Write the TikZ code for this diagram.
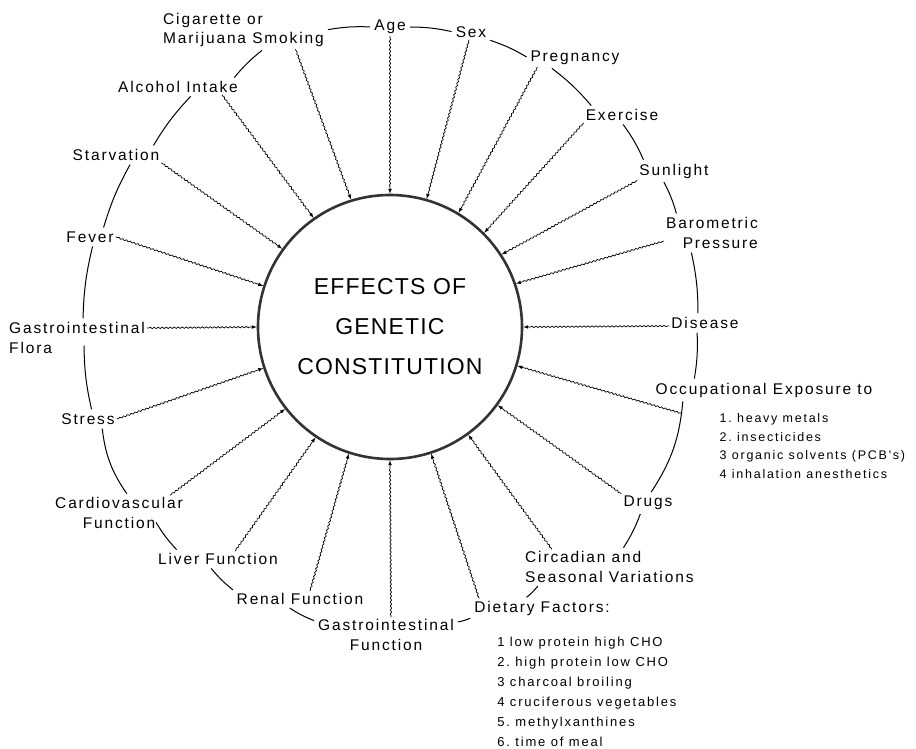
\documentclass[tikz,border=0pt]{standalone}
\usepackage{fontspec}
\newfontfamily\factorfont{Liberation Sans}[LetterSpace=12]
\newfontfamily\listfont{Liberation Sans}[LetterSpace=14]
\newfontfamily\titlefont{Liberation Sans}[LetterSpace=5]
\usetikzlibrary{shapes.geometric, arrows}
\usetikzlibrary{positioning, calc, decorations.pathmorphing}
\frenchspacing

\begin{document}
\begin{tikzpicture}[x=1pt, y=1pt]
        \tikzstyle{effect} = [circle, minimum size=264pt, inner sep=0pt, line width=2.6pt, draw=black!80, align=center, font=\titlefont\fontsize{23}{40}\selectfont]
        \tikzstyle{factor} = [inner sep=2pt, font=\factorfont\fontsize{15.5}{19.5}\selectfont]
        \tikzstyle{itemlist} = [inner sep=2pt, align=left, font=\listfont\fontsize{12.5}{18.5}\selectfont]
        \tikzstyle{ring} = [line width=1pt, bend left=6, shorten <=2pt, shorten >=2pt]
        \tikzstyle{influence} = [-latex, line width=0.7pt, decorate, decoration={snake, amplitude=0.7pt, segment length=4pt, pre length=2pt, post length=7pt}]

        \useasboundingbox (0,0) rectangle (916,-748);

        \node[effect] (effects) at (390,-327) {EFFECTS OF\\GENETIC\\CONSTITUTION};

        %factors round the circle
        \node[factor, align=left, anchor=west] (smoking) at (161,-30) {Cigarette or\\Marijuana Smoking};
        \node[factor] (age) at (390,-27) {Age};
        \node[factor] (sex) at (471,-32) {Sex};
        \node[factor] (pregnancy) at (575,-58) {Pregnancy};
        \node[factor] (exercise) at (622,-115) {Exercise};
        \node[factor] (sunlight) at (674,-171) {Sunlight};
        \node[factor, align=right, anchor=east] (pressure) at (760,-233) {Barometric\\Pressure};
        \node[factor] (disease) at (705,-323) {Disease};
        \node[factor] (occupation) at (764,-390) {Occupational Exposure to};
        \node[itemlist, below right=12pt and 64pt of occupation.south west] (occupationList) {1. heavy metals\\2. insecticides\\3 organic solvents (PCB's)\\4 inhalation anesthetics};
        \node[factor] (drugs) at (648,-503) {Drugs};
        \node[factor, align=left, anchor=west] (circadian) at (523,-567) {Circadian and\\Seasonal Variations};
        \node[factor] (diet) at (542,-608) {Dietary Factors:};
        \node[itemlist, font=\listfont\fontsize{13}{20}\selectfont, below right=17pt and 23pt of diet.south west] (dietList) {1 low protein high CHO\\2. high protein low CHO\\3 charcoal broiling\\4 cruciferous vegetables\\5. methylxanthines\\6. time of meal};
        \node[factor, align=center] (giFunction) at (386,-635) {Gastrointestinal\\Function};
        \node[factor] (renal) at (300,-599) {Renal Function};
        \node[factor] (liver) at (218,-559) {Liver Function};
        \node[factor, align=center] (cardio) at (119,-513) {Cardiovascular\\Function};
        \node[factor] (stress) at (88,-419) {Stress};
        \node[factor, align=left, anchor=west] (giFlora) at (7,-338) {Gastrointestinal\\Flora};
        \node[factor] (fever) at (90,-237) {Fever};
        \node[factor] (starvation) at (116,-155) {Starvation};
        \node[factor] (alcohol) at (178,-87) {Alcohol Intake};

        %outer ring
        \draw[ring] (smoking.east) to (age.west);
        \draw[ring] (age.east) to (sex.west);
        \draw[ring] (sex.south east) to (pregnancy.west);
        \draw[ring] ([xshift=22pt]pregnancy.south west) to ([xshift=9pt]exercise.north west);
        \draw[ring] (exercise.south) to ([xshift=7pt]sunlight.north west);
        \draw[ring] ([xshift=-11pt]sunlight.south) to ([xshift=13pt]pressure.north west);
        \draw[ring] ([xshift=-21pt]pressure.south) to ([xshift=-7pt]disease.north);
        \draw[ring] ([xshift=-8pt]disease.south) to ([xshift=-70pt]occupation.north);
        \draw[ring, bend left=14] ([xshift=-81pt]occupation.south) to ([xshift=2pt]drugs.north);
        \draw[ring] ([xshift=-7pt]drugs.south) to ([xshift=13pt]circadian.north);
        \draw[ring] ([xshift=16pt]circadian.south west) to ([xshift=-17pt]diet.north);
        \draw[ring] (diet.south west) to ([yshift=-5pt]giFunction.north east);
        \draw[ring] ([yshift=-4pt]giFunction.north west) to ([xshift=-12pt]renal.south);
        \draw[ring] (renal.north west) to ([xshift=-8pt]liver.south);
        \draw[ring] ([xshift=22pt]liver.north west) to ([shift={(-30pt,10pt)}]cardio.south east);
        \draw[ring, bend left=14] ([xshift=9pt]cardio.north) to ([xshift=14pt]stress.south);
        \draw[ring] ([xshift=4pt]stress.north) to ([shift={(-63pt,12pt)}]giFlora.south east);
        \draw[ring] ([xshift=6pt]giFlora.north) to ([xshift=3pt]fever.south);
        \draw[ring] ([xshift=13pt]fever.north) to ([xshift=15pt]starvation.south);
        \draw[ring] ([xshift=-9pt]starvation.north east) to ([xshift=14pt]alcohol.south);
        \draw[ring] ([xshift=-7pt]alcohol.north east) to ([xshift=20pt]smoking.south);

        %wavy arrows into the circle
        \draw[influence] ([xshift=52pt]smoking.south) -- (effects.107);
        \draw[influence] (age) -- (effects.90);
        \draw[influence] (sex) -- (effects.74);
        \draw[influence] ([xshift=9pt]pregnancy.south west) -- (effects.59);
        \draw[influence] (exercise.south west) -- (effects.45);
        \draw[influence] (sunlight.south west) -- (effects.33);
        \draw[influence] ([yshift=-8pt]pressure.west) -- (effects.19);
        \draw[influence] ([yshift=-3pt]disease.west) -- (effects.0);
        \draw[influence] ([shift={(-82pt,-14pt)}]occupation.south) -- (effects.-17);
        \draw[influence] (drugs.north west) -- (effects.-36);
        \draw[influence] ([xshift=29pt]circadian.north west) -- (effects.-54);
        \draw[influence] ([xshift=7pt]diet.north west) -- (effects.-72);
        \draw[influence] ([xshift=5pt]giFunction.north) -- (effects.-90);
        \draw[influence] ([xshift=10pt]renal.north) -- (effects.-108);
        \draw[influence] ([xshift=17pt]liver.north) -- (effects.-124);
        \draw[influence] ([xshift=51pt]cardio.north) -- (effects.-142);
        \draw[influence] (stress.east) -- (effects.198);
        \draw[influence] ([yshift=10pt]giFlora.east) -- (effects.180);
        \draw[influence] (fever.east) -- (effects.162);
        \draw[influence] (starvation.south east) -- (effects.144);
        \draw[influence] ([xshift=-18pt]alcohol.south east) -- (effects.125);
    \end{tikzpicture}
\end{document}
